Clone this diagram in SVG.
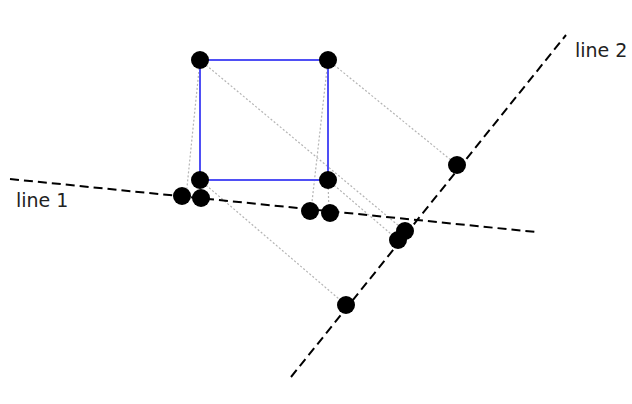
<svg xmlns="http://www.w3.org/2000/svg" width="632" height="404" viewBox="0 0 632 404">
<style>
.proj{stroke:#b4b4b4;stroke-width:1.2;stroke-dasharray:2 2;fill:none}
.axis{stroke:#000;stroke-width:2;stroke-dasharray:9 5;fill:none}
.sq{stroke:#4f4ff5;stroke-width:2;fill:none}
.dot{fill:#000}
.lbl{font-family:"DejaVu Sans",Verdana,sans-serif;font-size:19px;fill:#222}
</style>
<rect width="632" height="404" fill="#fff"/>
<g id="connectors">
<line class="proj" x1="200" y1="60" x2="186" y2="197"/>
<line class="proj" x1="200" y1="180" x2="200" y2="198"/>
<line class="proj" x1="328" y1="60" x2="311" y2="211"/>
<line class="proj" x1="328" y1="180" x2="329" y2="213"/>
<line class="proj" x1="200" y1="60" x2="405" y2="231"/>
<line class="proj" x1="328" y1="60" x2="457" y2="165"/>
<line class="proj" x1="200" y1="180" x2="346" y2="305"/>
<line class="proj" x1="328" y1="180" x2="398" y2="240"/>
</g>
<g id="line1">
<line class="axis" x1="10" y1="179" x2="536" y2="232"/>
<text class="lbl" x="16" y="207">line 1</text>
</g>
<g id="line2">
<line class="axis" x1="291" y1="377" x2="566" y2="35"/>
<text class="lbl" x="575" y="57">line 2</text>
</g>
<g id="square">
<rect class="sq" x="200" y="60" width="128" height="120"/>
</g>
<g id="p1"><circle class="dot" cx="200" cy="60" r="9"/></g>
<g id="p2"><circle class="dot" cx="328" cy="60" r="9"/></g>
<g id="p3"><circle class="dot" cx="200" cy="180" r="9"/></g>
<g id="p4"><circle class="dot" cx="328" cy="180" r="9"/></g>
<g id="q1"><circle class="dot" cx="182" cy="196" r="9"/></g>
<g id="q2"><circle class="dot" cx="201" cy="198" r="9"/></g>
<g id="q3"><circle class="dot" cx="310" cy="211" r="9"/></g>
<g id="q4"><circle class="dot" cx="330" cy="213" r="9"/></g>
<g id="r1"><circle class="dot" cx="457" cy="165" r="9"/></g>
<g id="r2"><circle class="dot" cx="405" cy="231" r="9"/></g>
<g id="r3"><circle class="dot" cx="398" cy="240" r="9"/></g>
<g id="r4"><circle class="dot" cx="346" cy="305" r="9"/></g>
</svg>
